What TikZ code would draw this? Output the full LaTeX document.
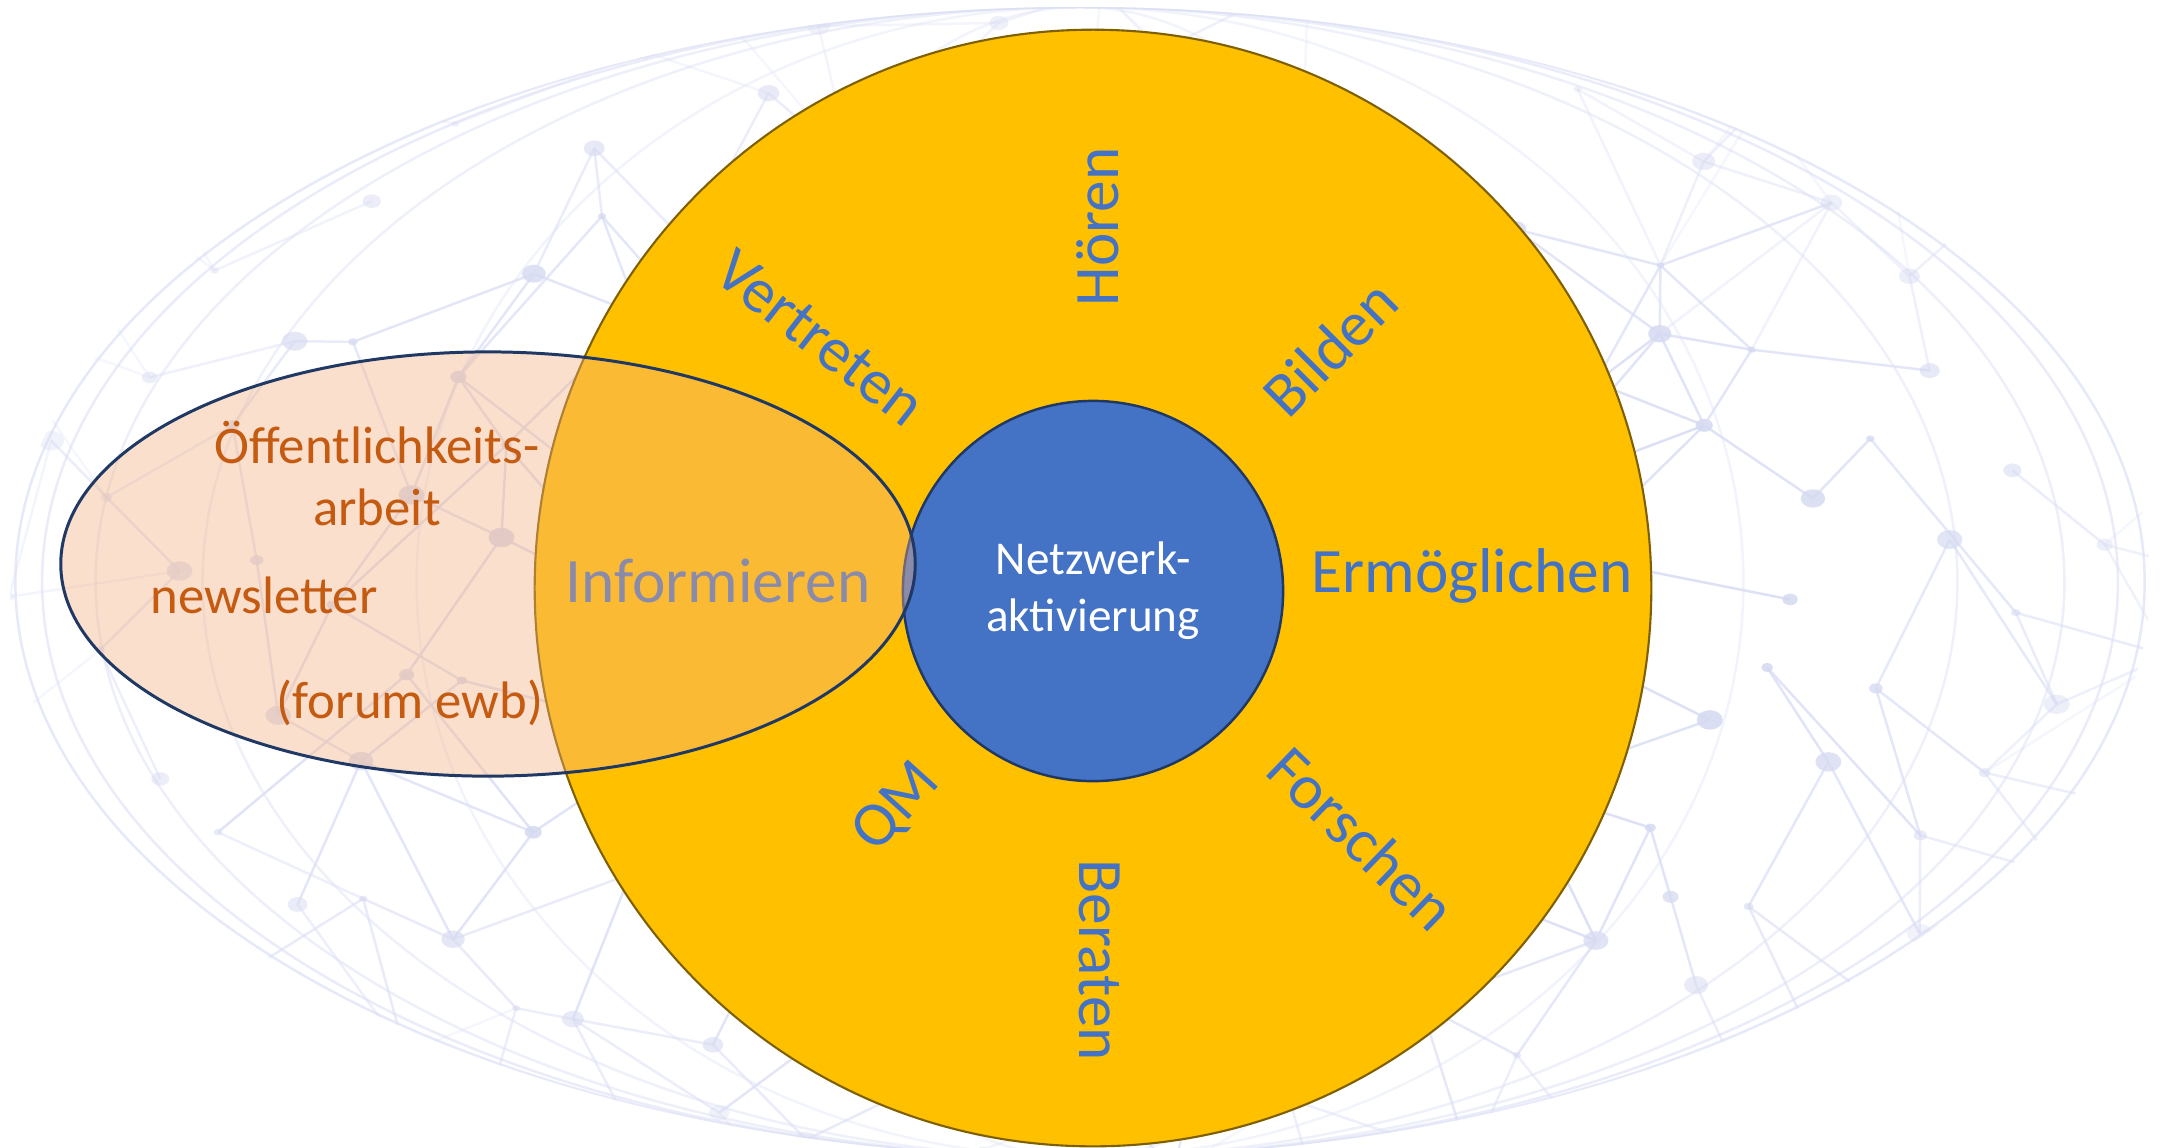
\documentclass[tikz,border=0pt]{standalone}
\usepackage{fontspec}
\setmainfont{Carlito}
\usetikzlibrary{shapes.geometric}

\definecolor{gold}{HTML}{FFC000}
\definecolor{goldline}{HTML}{7F6000}
\definecolor{coreblue}{HTML}{4472C4}
\definecolor{navy}{HTML}{1F3864}
\definecolor{rust}{HTML}{C55A11}
\definecolor{peach}{HTML}{F4B183}
\definecolor{webnode}{HTML}{D6DAF1}
\definecolor{webline}{HTML}{DCE0F5}

\tikzstyle{task}=[text=coreblue,font=\fontsize{18}{22}\selectfont,inner sep=0pt]
\tikzstyle{channel}=[text=rust,font=\fontsize{15}{18.5}\selectfont,inner sep=0pt]
\tikzstyle{webedge}=[draw=webline,line width=0.7pt]
\tikzstyle{webdot}=[fill=webnode]

% jittered grid of the background net
\pgfmathdeclarefunction{webx}{2}{\pgfmathparse{20+118*(#1)+42*sin(97*(#1)+213*(#2))}}
\pgfmathdeclarefunction{weby}{2}{\pgfmathparse{15+112*(#2)+38*sin(151*(#1)+71*(#2)+40)}}

\begin{document}
\begin{tikzpicture}[x=0.01cm,y=-0.01cm]
  \useasboundingbox (0,0) rectangle (2161,1147);
  \fill[white] (0,0) rectangle (2161,1147);

  % background net
  \begin{scope}
    \clip (1080,582) ellipse [x radius=1070, y radius=575];
    \foreach \k/\o in {0.35/0.35,0.62/0.35,0.82/0.45,0.92/0.5,0.97/0.6,0.995/0.7}
      \draw[webedge,opacity=\o] (1080,582) ellipse [x radius=1070*\k, y radius=575];
    \foreach \i in {0,...,18}{
      \foreach \j in {0,...,10}{
        \pgfmathsetmacro\rr{((webx(\i,\j)-1080)/1070)^2+((weby(\i,\j)-582)/575)^2}
        \pgfmathsetmacro\webop{max(0.25,min(1,1-0.7*\rr^2))}
        \pgfmathtruncatemacro\linkr{sin(53*\i+29*\j)>-0.25}
        \pgfmathtruncatemacro\linkd{cos(41*\i+67*\j)>-0.1}
        \pgfmathtruncatemacro\linkx{sin(83*\i+37*\j)>0.4}
        \pgfmathtruncatemacro\linky{cos(71*\i+19*\j)>0.55}
        \begin{scope}[opacity=\webop]
          \ifnum\linkr=1 \draw[webedge] ({webx(\i,\j)},{weby(\i,\j)}) -- ({webx(\i+1,\j)},{weby(\i+1,\j)});\fi
          \ifnum\linkd=1 \draw[webedge] ({webx(\i,\j)},{weby(\i,\j)}) -- ({webx(\i,\j+1)},{weby(\i,\j+1)});\fi
          \ifnum\linkx=1 \draw[webedge] ({webx(\i,\j)},{weby(\i,\j)}) -- ({webx(\i+1,\j+1)},{weby(\i+1,\j+1)});\fi
          \ifnum\linky=1 \draw[webedge] ({webx(\i,\j)},{weby(\i,\j)}) -- ({webx(\i-1,\j+1)},{weby(\i-1,\j+1)});\fi
          \pgfmathsetmacro\dotr{4+9*abs(sin(61*\i+113*\j))^2}
          \fill[webdot] ({webx(\i,\j)},{weby(\i,\j)}) ellipse [x radius=\dotr, y radius=0.75*\dotr];
        \end{scope}
      }}
  \end{scope}

  % rings
  \node[circle,fill=gold,draw=goldline,line width=0.6pt,minimum size=11.16cm] (outer) at (1093,588) {};
  \node[circle,fill=coreblue,draw=navy,line width=0.7pt,minimum size=3.8cm,
        text=white,align=center,font=\fontsize{13.4}{16.2}\selectfont] (core) at (1093,591) {Netzwerk-\\aktivierung};

  % tasks
  \node[task,rotate=90]  (hoeren)       at (1098,227) {Hören};
  \node[task,rotate=-38] (vertreten)    at (820,338)  {Vertreten};
  \node[task,rotate=45]  (bilden)       at (1330,348) {Bilden};
  \node[task,anchor=base] (ermoeglichen) at (1472,592) {Ermöglichen};
  \node[task,rotate=-44] (forschen)     at (1362,838) {Forschen};
  \node[task,rotate=-90] (beraten)      at (1100,960) {Beraten};
  \node[task,rotate=48]  (qm)           at (897,808)  {QM};
  \node[task,anchor=base] (informieren) at (718,602)  {Informieren};

  % public relations
  \node[ellipse,fill=peach,fill opacity=0.4,draw=navy,line width=0.85pt,
        minimum width=8.54cm,minimum height=4.24cm,inner sep=0pt] (info) at (488,564) {};
  \node[channel,anchor=base] (oeffentlichkeit) at (377,463) {Öffentlichkeits-};
  \node[channel] (arbeit) [below of=oeffentlichkeit,node distance=0.65cm] {arbeit};
  \node[channel,anchor=base] (newsletter) at (264,613) {newsletter};
  \node[channel,anchor=base] (forum) at (410,718) {(forum ewb)};
\end{tikzpicture}
\end{document}
